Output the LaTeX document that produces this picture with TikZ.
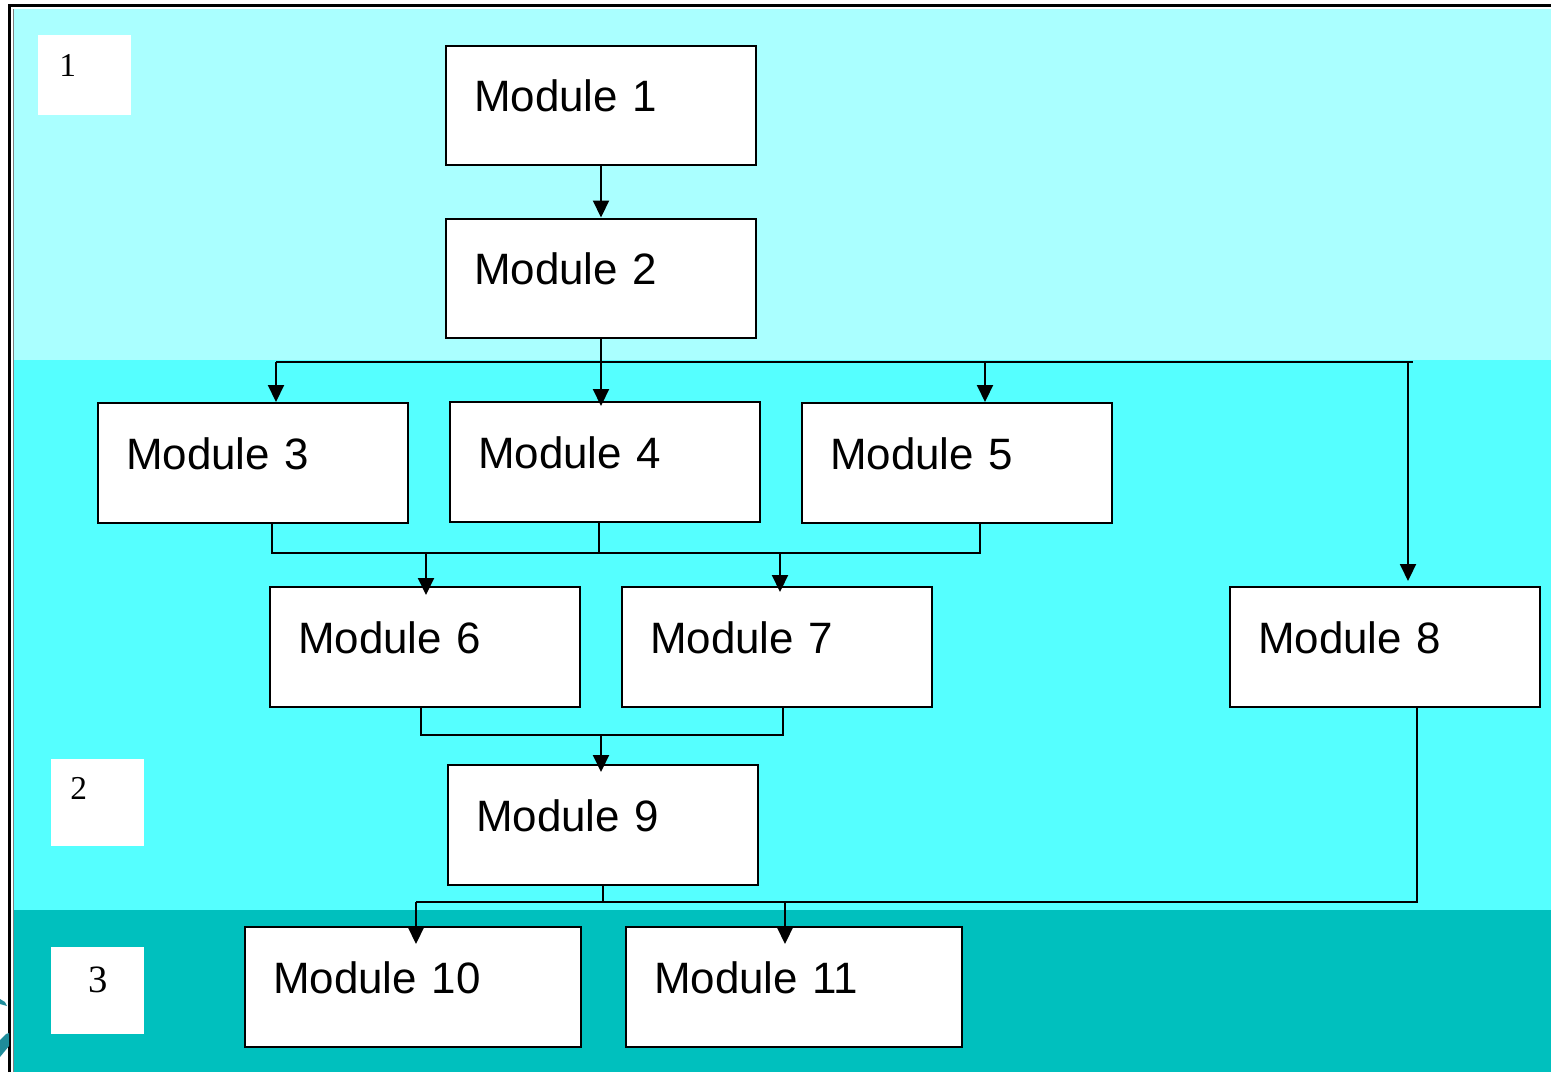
\documentclass[tikz,border=0pt]{standalone}
\usepackage{fontspec}
\setmainfont{Liberation Sans}
\newfontfamily\seriffont{Liberation Serif}
\usetikzlibrary{arrows.meta}
\definecolor{bandlight}{HTML}{AAFFFF}
\definecolor{bandmid}{HTML}{55FFFF}
\definecolor{banddark}{HTML}{00C0BE}
\definecolor{logoteal}{HTML}{1E8C9A}
\tikzset{
  modbox/.style={draw=black, fill=white, line width=0.04cm, rectangle,
    minimum width=6.2cm, minimum height=2.4cm, text width=5.08cm,
    inner xsep=0.56cm, inner ysep=0pt, align=left,
    text height=0.44cm, text depth=0.2cm,
    font=\fontsize{25}{29}\selectfont},
  widebox/.style={modbox, minimum width=6.72cm, text width=5.6cm},
  conn/.style={line width=0.04cm, draw=black},
  arr/.style={conn, -{Triangle[length=0.34cm,width=0.32cm]}},
  numlabel/.style={inner sep=0pt, anchor=north west, font=\seriffont\fontsize{19}{22}\selectfont},
}
\begin{document}
\begin{tikzpicture}[x=0.02cm,y=-0.02cm]
\useasboundingbox (0,0) rectangle (1551,1072);
\fill[white] (0,0) rectangle (1551,1072);
% bands
\fill[bandlight] (14,9) rectangle (1551,360);
\fill[bandmid] (14,360) rectangle (1551,910);
\fill[banddark] (14,910) rectangle (1551,1072);
% frame
\draw[line width=0.06cm] (9.5,1072) -- (9.5,5) -- (1551,5);
\draw[line width=0.02cm, gray] (13,9) -- (13,1072);
% logo fragment
\fill[logoteal] (0,999) -- (5,1002) -- (7,1006) -- (0,1004) -- cycle;
\fill[logoteal] (0,1040) -- (6,1034) -- (9,1033) -- (9,1046) -- (0,1057) -- cycle;
% level label boxes
\fill[white] (38,35) rectangle (131,115);
\fill[white] (51,759) rectangle (144,846);
\fill[white] (51,947) rectangle (144,1034);
\node[numlabel] (lab1) at (59,54) {1};
\node[numlabel] (lab2) at (70,777) {2};
\node[numlabel, font=\seriffont\fontsize{22}{26}\selectfont] (lab3) at (88,967) {3};
% modules
\node[modbox] (m1) at (601,105.5) {Module 1};
\node[modbox] (m2) at (601,278.5) {Module 2};
\node[modbox] (m3) at (253,463) {Module 3};
\node[modbox] (m4) at (605,462) {Module 4};
\node[modbox] (m5) at (957,463) {Module 5};
\node[modbox] (m6) at (425,647) {Module 6};
\node[modbox] (m7) at (777,647) {Module 7};
\node[modbox] (m8) at (1385,647) {Module 8};
\node[modbox] (m9) at (603,825) {Module 9};
\node[widebox] (m10) at (413,987) {Module 10};
\node[widebox] (m11) at (794,987) {Module 11};
% bus coordinates
\coordinate (b1l) at (276,362);
\coordinate (b1r) at (1413,362);
\coordinate (b15) at (985,362);
\coordinate (b18) at (1408,362);
\coordinate (c3) at (272,553);
\coordinate (c4) at (599,553);
\coordinate (c5) at (980,553);
\coordinate (d6) at (426,553);
\coordinate (d7) at (780,553);
\coordinate (e6) at (421,735);
\coordinate (e7) at (783,735);
\coordinate (e9) at (601,735);
\coordinate (f10) at (416,902);
\coordinate (f11) at (785,902);
\coordinate (f8) at (1417,902);
% connectors
\draw[arr] (m1.south) -- (m2.north);
\draw[conn] (b1l) -- (b1r);
\draw[arr, shorten >=-0.1cm] (m2.south) -- (m2.south |- m4.north);
\draw[arr] (b1l) -- (b1l |- m3.north);
\draw[arr] (b15) -- (b15 |- m5.north);
\draw[arr, shorten >=0.1cm] (b18) -- (b18 |- m8.north);
\draw[conn] (c3 |- m3.south) -- (c3) -- (c5) -- (c5 |- m5.south);
\draw[conn] (c4 |- m4.south) -- (c4);
\draw[arr, shorten >=-0.18cm] (d6) -- (d6 |- m6.north);
\draw[arr, shorten >=-0.12cm] (d7) -- (d7 |- m7.north);
\draw[conn] (e6 |- m6.south) -- (e6) -- (e7) -- (e7 |- m7.south);
\draw[arr, shorten >=-0.16cm] (e9) -- (e9 |- m9.north);
\draw[conn] (m9.south) -- (m9.south |- f10);
\draw[conn] (f8 |- m8.south) -- (f8) -- (f10);
\draw[arr, shorten >=-0.36cm] (f10) -- (f10 |- m10.north);
\draw[arr, shorten >=-0.36cm] (f11) -- (f11 |- m11.north);
\end{tikzpicture}
\end{document}
